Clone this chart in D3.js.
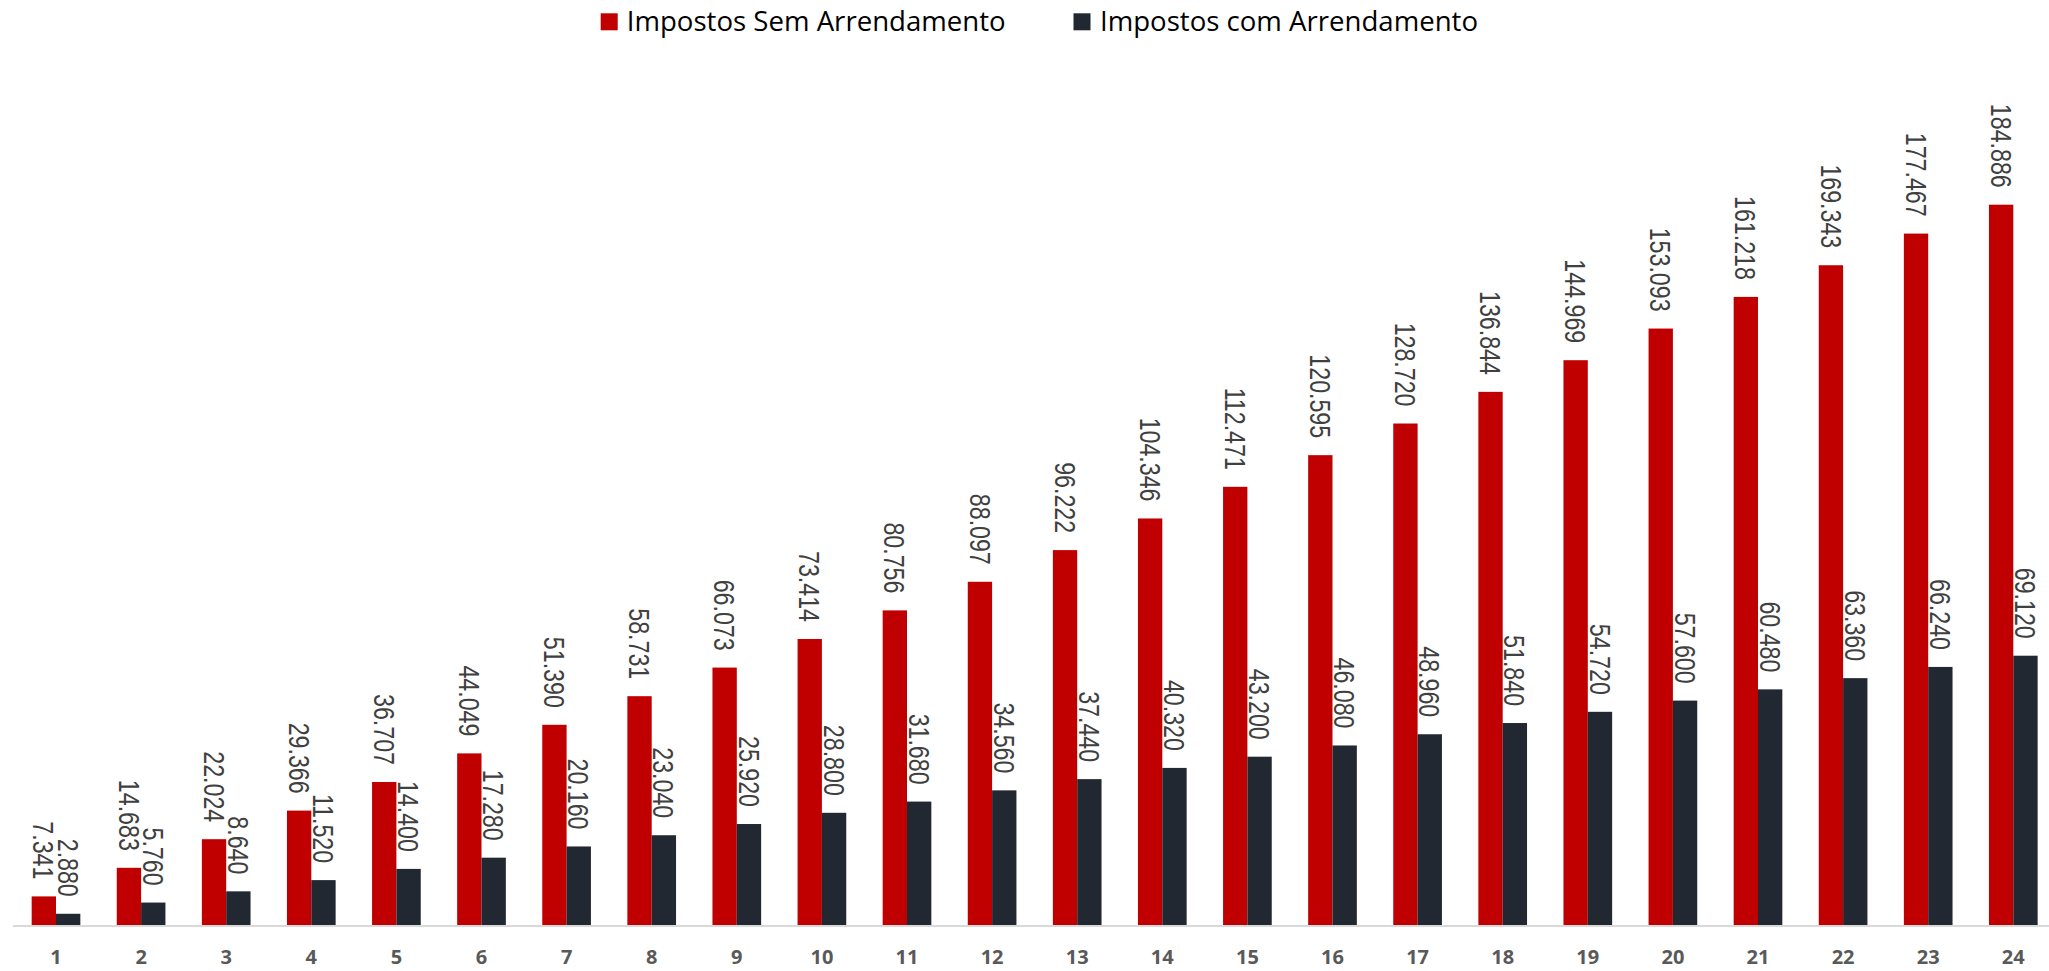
<!DOCTYPE html>
<html>
<head>
<meta charset="utf-8">
<script src="https://cdn.jsdelivr.net/npm/d3@7"></script>
<style>
  html, body { margin: 0; padding: 0; background: #fff; }
  svg { display: block; }
</style>
</head>
<body>
<div id="chart"></div>
<script>
const categories = ["1","2","3","4","5","6","7","8","9","10","11","12","13","14","15","16","17","18","19","20","21","22","23","24"];
const semArrendamento = [7.341,14.683,22.024,29.366,36.707,44.049,51.390,58.731,66.073,73.414,80.756,88.097,96.222,104.346,112.471,120.595,128.720,136.844,144.969,153.093,161.218,169.343,177.467,184.886];
const comArrendamento = [2.880,5.760,8.640,11.520,14.400,17.280,20.160,23.040,25.920,28.800,31.680,34.560,37.440,40.320,43.200,46.080,48.960,51.840,54.720,57.600,60.480,63.360,66.240,69.120];
const seriesNames = ["Impostos Sem Arrendamento", "Impostos com Arrendamento"];
const seriesColors = ["#c00000", "#222831"];

const W = 2049, H = 971;
const baseY = 925;

const svg = d3.select("#chart").append("svg")
  .attr("width", W).attr("height", H);

const x = d3.scaleBand()
  .domain(categories)
  .range([13.45, 2055.85])
  .paddingInner(0.428)
  .paddingOuter(0.214);

const xs = d3.scaleBand()
  .domain([0, 1])
  .range([0, x.bandwidth()])
  .padding(0);

const y = d3.scaleLinear()
  .domain([0, 200])
  .range([baseY, baseY - 779.2]);

const seriesData = [semArrendamento, comArrendamento];
function fmtLabel(v) {
  return v.toFixed(3);
}

// axis line
svg.append("line")
  .attr("x1", 13).attr("x2", W)
  .attr("y1", baseY + 1).attr("y2", baseY + 1)
  .attr("stroke", "#d9d9d9").attr("stroke-width", 2);

// bars
seriesData.forEach((vals, si) => {
  svg.append("g").selectAll("rect")
    .data(vals)
    .join("rect")
    .attr("x", (d, i) => x(categories[i]) + xs(si))
    .attr("width", xs.bandwidth())
    .attr("y", d => y(d))
    .attr("height", d => baseY - y(d))
    .attr("fill", seriesColors[si]);
});

// value labels (rotated)
const labelSize = 29;
seriesData.forEach((vals, si) => {
  svg.append("g").selectAll("text")
    .data(vals)
    .join("text")
    .attr("transform", (d, i) => {
      const cx = x(categories[i]) + xs(si) + xs.bandwidth() / 2;
      const cy = y(d) - 17;
      return `translate(${cx},${cy}) rotate(90) scale(0.8,1)`;
    })
    .attr("y", labelSize * 0.716 / 2)
    .attr("text-anchor", "end")
    .attr("font-family", "'Liberation Sans', Arial, sans-serif")
    .attr("font-size", labelSize)
    .attr("fill", "#404040")
    .text(d => fmtLabel(d));
});

// x axis labels
svg.append("g").selectAll("text")
  .data(categories)
  .join("text")
  .attr("x", d => x(d) + x.bandwidth() / 2)
  .attr("y", 963.5)
  .attr("text-anchor", "middle")
  .attr("font-family", "'Open Sans', sans-serif")
  .attr("font-weight", "bold")
  .attr("font-size", 20)
  .attr("fill", "#595959")
  .text(d => d);

// legend
const legendItems = [
  { name: seriesNames[0], color: seriesColors[0], sx: 600.7, tx: 626.7, tl: 379 },
  { name: seriesNames[1], color: seriesColors[1], sx: 1073.5, tx: 1100, tl: 378 }
];
const lg = svg.append("g");
legendItems.forEach(it => {
  lg.append("rect")
    .attr("x", it.sx).attr("y", 13.3)
    .attr("width", 17).attr("height", 17)
    .attr("fill", it.color);
  lg.append("text")
    .attr("x", it.tx).attr("y", 31)
    .attr("font-family", "'Open Sans', sans-serif")
    .attr("font-size", 27)
    .attr("fill", "#000")
    .attr("textLength", it.tl)
    .attr("lengthAdjust", "spacingAndGlyphs")
    .text(it.name);
});
</script>
</body>
</html>
